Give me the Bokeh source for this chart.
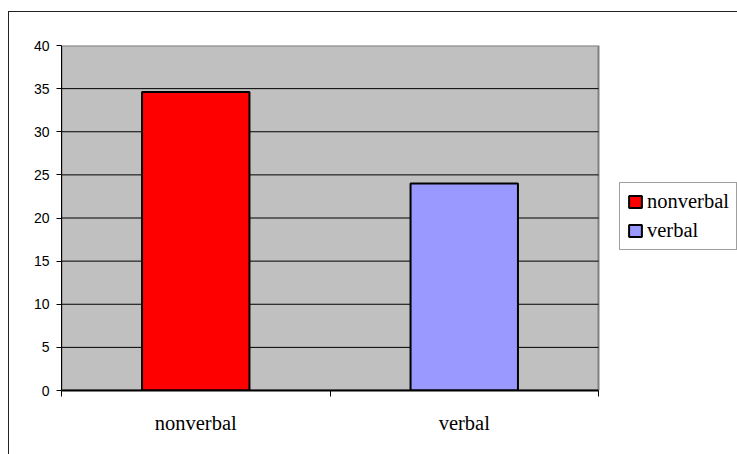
from bokeh.plotting import figure
from bokeh.models import (ColumnDataSource, FixedTicker, Legend, LegendItem,
                          Range1d)
from bokeh.embed import file_html
from bokeh.resources import INLINE

categories = ["nonverbal", "verbal"]
values = [34.6, 24.0]
colors = ["#FF0000", "#9999FF"]
y_ticks = [0, 5, 10, 15, 20, 25, 30, 35, 40]

W, H = 737, 454
LEFT, TOP, BOTTOM = 61, 45, 64
PLOT_RIGHT = 598  # right edge of the gray plot area in px

n = len(categories)
ymax = y_ticks[-1]
xpos = [i + 0.5 for i in range(n)]
src = ColumnDataSource(dict(x=xpos, top=values, color=colors, label=categories))

frame_w = W - LEFT
x_end = n * frame_w / (PLOT_RIGHT - LEFT)

p = figure(width=W, height=H, output_backend="svg", toolbar_location=None,
           x_range=Range1d(0, x_end), y_range=Range1d(0, ymax),
           min_border_left=LEFT, min_border_right=0, min_border_top=TOP,
           min_border_bottom=BOTTOM)
p.background_fill_color = "white"
p.border_fill_color = "white"
p.outline_line_color = None

# gray plot area
p.quad(left=[0], right=[n], bottom=[0], top=[ymax], fill_color="#C0C0C0",
       line_color="#808080", line_width=2)

# horizontal gridlines restricted to the plot area
inner = y_ticks[1:-1]
p.segment(x0=[0] * len(inner), x1=[n] * len(inner), y0=inner, y1=inner,
          line_color="black", line_width=1)

r = p.vbar(x="x", top="top", width=0.4, bottom=0, fill_color="color",
           line_color="black", line_width=2, source=src)

p.xgrid.visible = False
p.ygrid.visible = False

p.yaxis.ticker = FixedTicker(ticks=y_ticks)
p.yaxis.axis_line_color = "black"
p.yaxis.major_tick_out = 5
p.yaxis.major_tick_in = 0
p.yaxis.minor_tick_line_color = None
p.yaxis.major_label_text_font = "Liberation Sans"
p.yaxis.major_label_text_font_size = "14px"
p.yaxis.major_label_text_color = "black"
p.yaxis.major_label_standoff = 7

p.xaxis.ticker = FixedTicker(ticks=xpos, minor_ticks=list(range(n + 1)))
p.xaxis.bounds = (0, n)
p.xaxis.major_label_overrides = {xv: c for xv, c in zip(xpos, categories)}
p.xaxis.major_tick_out = 0
p.xaxis.major_tick_in = 0
p.xaxis.minor_tick_out = 6
p.xaxis.minor_tick_in = 0
p.xaxis.minor_tick_line_color = "black"
p.xaxis.axis_line_color = "black"
p.xaxis.axis_line_width = 2
p.xaxis.major_label_text_font = "Liberation Serif"
p.xaxis.major_label_text_font_size = "20.5px"
p.xaxis.major_label_text_color = "black"
p.xaxis.major_label_standoff = 15

items = [LegendItem(label=c, renderers=[r], index=i) for i, c in enumerate(categories)]
legend = Legend(items=items, location=(558, 140), margin=0, padding=7,
                spacing=6, glyph_width=16, glyph_height=15, label_standoff=4,
                label_text_font="Liberation Serif", label_text_font_size="20.5px",
                label_text_color="black",
                border_line_color="#404040", border_line_width=1,
                background_fill_color="white")
p.add_layout(legend, "center")

p.stylesheets = [
    ":host::after { content: ''; position: absolute; left: 8px; top: 11px; "
    "width: 729px; height: 443px; border-left: 1.5px solid #222; "
    "border-top: 1.5px solid #222; pointer-events: none; box-sizing: border-box; }"
]

open("out.html", "w").write(file_html(p, INLINE))
